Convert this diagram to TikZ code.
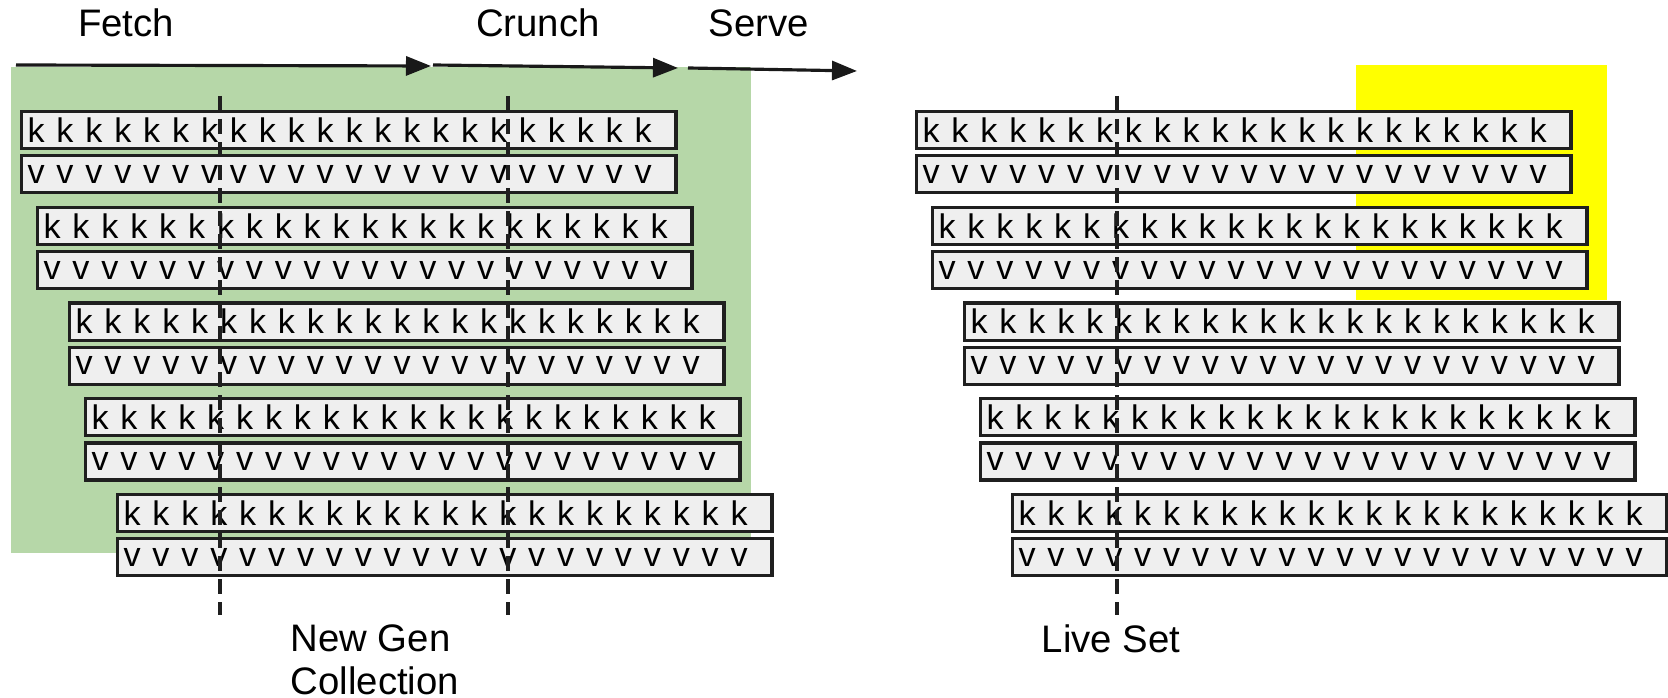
\documentclass[tikz,border=0pt]{standalone}
\usepackage{fontspec}
\setmainfont{Liberation Sans}
\usetikzlibrary{arrows.meta,positioning}
\definecolor{gengreen}{HTML}{B6D7A8}
\definecolor{liveyellow}{HTML}{FFFF00}
\definecolor{cellgray}{HTML}{EFEFEF}
\definecolor{inkdark}{HTML}{1F1F1F}
\newcommand\kvfont{\fontsize{9.7}{10}\selectfont}
\newcommand\tagfont{\fontsize{10.9}{12.2}\selectfont}
% one row of 22 evenly spaced letters
\newcommand\kvrow[1]{\foreach\n in {1,...,22}{\makebox[8.22pt][l]{#1}}}
\tikzset{
    every node/.style={font=\tagfont},
    cell/.style={draw=inkdark,fill=cellgray,line width=0.9pt,anchor=north west,
        minimum height=0.37cm,text width=6.42cm,inner xsep=0.06cm,inner ysep=0pt,
        align=left,font=\kvfont},
    cut/.style={draw=inkdark,line width=0.9pt,dash pattern=on 0.15cm off 0.08cm},
    flow/.style={draw=black!90,line width=0.9pt,-{Triangle[length=0.25cm,width=0.19cm]}},
    tag/.style={inner sep=0pt}
}

\begin{document}
\begin{tikzpicture}[x=0.01cm,y=-0.01cm]
    \useasboundingbox (0,0) rectangle (1668,698);
    % shaded areas
    \fill[gengreen] (11,67) rectangle (751,553);
    \fill[liveyellow] (1356,65) rectangle (1607,300);
    % key and value rows, new generation and live set
    \foreach \r/\off in {1/0,2/16,3/48,4/64,5/96} {
        \node[cell] (nk\r) at (20+\off,{110+(\r-1)*95.75}) {\kvrow{k}};
        \node[cell] (nv\r) at ([yshift=-0.04cm]nk\r.south west) {\kvrow{v}};
        \node[cell] (lk\r) at (915+\off,{110+(\r-1)*95.75}) {\kvrow{k}};
        \node[cell] (lv\r) at ([yshift=-0.04cm]lk\r.south west) {\kvrow{v}};
    }
    % cut lines
    \coordinate (cutA) at (220,96);  \coordinate (cutA') at (220,615);
    \coordinate (cutB) at (508,96);  \coordinate (cutB') at (508,615);
    \coordinate (cutL) at (1117,96); \coordinate (cutL') at (1117,615);
    \draw[cut] (cutA) -- (cutA');
    \draw[cut] (cutB) -- (cutB');
    \draw[cut] (cutL) -- (cutL');
    % phases
    \node[tag] (fetch) at (126,23) {Fetch};
    \node[tag] (crunch) at (538,23) {Crunch};
    \node[tag] (serve) at (759,23) {Serve};
    \coordinate (p0) at (16,65);
    \coordinate (p1) at (431,66);
    \coordinate (p2) at (433,65);
    \coordinate (p3) at (678,68);
    \coordinate (p4) at (688,68);
    \coordinate (p5) at (857,71);
    \draw[flow] (p0) -- (p1);
    \draw[flow] (p2) -- (p3);
    \draw[flow] (p4) -- (p5);
    % captions
    \node[tag,anchor=north west,align=left] (newgen) at (290,624) {New Gen\\Collection};
    \node[tag,anchor=north west] (liveset) at (1041,624) {Live Set};
\end{tikzpicture}
\end{document}
